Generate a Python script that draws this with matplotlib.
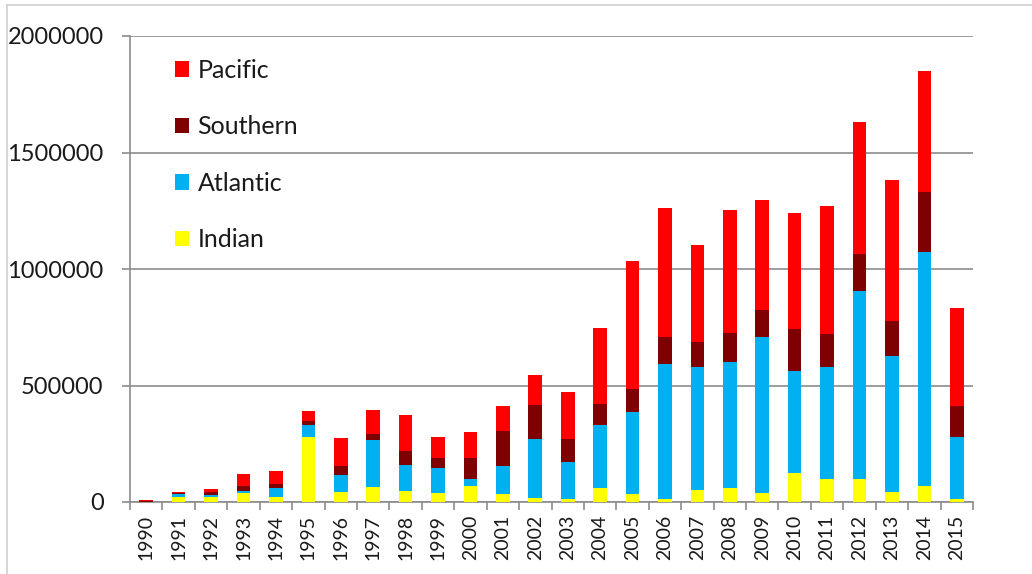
import matplotlib
matplotlib.use("Agg")
import matplotlib.pyplot as plt
from matplotlib.patches import Patch
from matplotlib.lines import Line2D
import numpy as np

years = [str(y) for y in range(1990, 2016)]
indian = [1000, 20000, 20000, 39000, 20000, 281000, 42000, 66000, 49000, 37000,
          67000, 34000, 18000, 13000, 61000, 34000, 13000, 52000, 62000, 40000,
          123000, 100000, 100000, 44000, 69000, 13000]
atlantic = [1000, 14000, 11000, 10000, 40000, 49000, 73000, 198000, 110000, 110000,
            33000, 122000, 254000, 160000, 271000, 353000, 579000, 528000, 540000, 668000,
            441000, 480000, 807000, 581000, 1003000, 265000]
southern = [1000, 4000, 11000, 21000, 16000, 17000, 39000, 27000, 62000, 43000,
            89000, 149000, 143000, 98000, 89000, 100000, 116000, 105000, 122000, 114000,
            177000, 143000, 159000, 150000, 259000, 132000]
pacific = [6000, 4000, 13000, 50000, 56000, 43000, 121000, 105000, 153000, 89000,
           110000, 105000, 132000, 199000, 325000, 546000, 553000, 417000, 531000, 476000,
           501000, 548000, 565000, 605000, 519000, 424000]
yticks = [0, 500000, 1000000, 1500000, 2000000]

series = [("Indian", indian, "#FFFF00"), ("Atlantic", atlantic, "#00B0F0"),
          ("Southern", southern, "#7F0000"), ("Pacific", pacific, "#FF0000")]

W, H = 1032, 574
fig = plt.figure(figsize=(W / 100, H / 100), dpi=100)
ax = fig.add_axes([130 / W, 1 - 502 / H, (973 - 130) / W, (502 - 36) / H])

x = np.arange(len(years))
bottom = np.zeros(len(years))
for name, vals, col in series:
    ax.bar(x, vals, width=0.42, bottom=bottom, color=col, label=name, zorder=3)
    bottom += np.array(vals)

ax.set_xlim(-0.5, len(years) - 0.5)
ax.set_ylim(0, 2000000)
grid_c = "#8C8C8C"
for spine in ["top", "right"]:
    ax.spines[spine].set_visible(False)
for spine in ["left", "bottom"]:
    ax.spines[spine].set_color(grid_c)
    ax.spines[spine].set_linewidth(1.2)
ax.set_yticks(yticks)
ax.set_yticklabels([str(v) for v in yticks])
ax.yaxis.grid(True, color=grid_c, linewidth=1.2, zorder=0)
ax.tick_params(axis="y", length=6, width=1.2, color=grid_c, pad=13, labelsize=17,
               labelcolor="#1A1A1A")
ax.set_xticks(np.arange(-0.5, len(years), 1.0))
ax.set_xticklabels([])
ax.set_xticks(x, minor=True)
ax.set_xticklabels(years, minor=True, rotation=90, fontsize=14, color="#1A1A1A")
ax.tick_params(axis="x", which="major", length=6, width=1.2, color=grid_c)
ax.tick_params(axis="x", which="minor", length=0, pad=9)
for lab in ax.get_yticklabels() + ax.get_xticklabels(minor=True):
    lab.set_fontfamily("Lato")

handles = [Patch(facecolor=c, edgecolor="none") for _, _, c in series][::-1]
labels = [n for n, _, _ in series][::-1]
leg = ax.legend(handles, labels, loc="upper left", bbox_to_anchor=(0.053, 0.951),
                frameon=False, borderpad=0, borderaxespad=0, labelspacing=1.34,
                handlelength=0.56, handleheight=0.56, handletextpad=0.35,
                prop={"family": "Lato", "size": 18})
for t in leg.get_texts():
    t.set_color("#1A1A1A")

fig.add_artist(Line2D([7 / W, 7 / W], [0, 1 - 5 / H], color="#D0D0D0", linewidth=1.2))
fig.add_artist(Line2D([7 / W, 1], [1 - 5 / H, 1 - 5 / H], color="#D0D0D0", linewidth=1.2))

fig.savefig("out.png", dpi=100, facecolor="white")
